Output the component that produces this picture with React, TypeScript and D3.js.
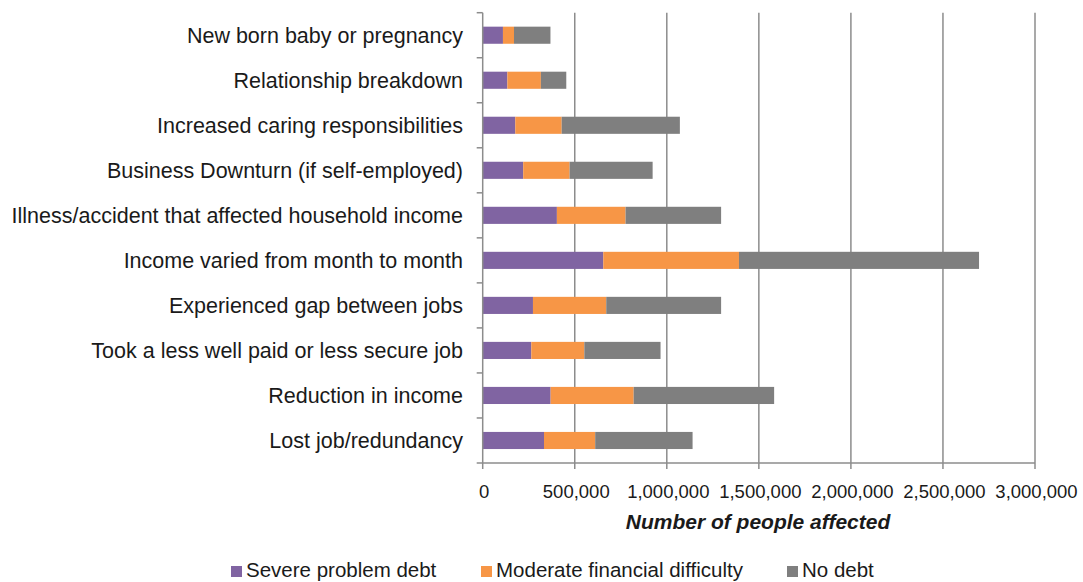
import React from "react";
import * as d3 from "d3";

const categories = [
  "New born baby or pregnancy",
  "Relationship breakdown",
  "Increased caring responsibilities",
  "Business Downturn (if self-employed)",
  "Illness/accident that affected household income",
  "Income varied from month to month",
  "Experienced gap between jobs",
  "Took a less well paid or less secure job",
  "Reduction in income",
  "Lost job/redundancy",
];
const severe = [110000, 134000, 177000, 220000, 403000, 655000, 273000, 264000, 369000, 333000];
const moderate = [60000, 182000, 252000, 252000, 373000, 737000, 398000, 288000, 451000, 278000];
const noDebt = [198000, 138000, 642000, 451000, 519000, 1304000, 624000, 414000, 763000, 529000];
const seriesNames = ["Severe problem debt", "Moderate financial difficulty", "No debt"];
const colors = ["#8064A2", "#F79646", "#7F7F7F"];
const xTicks = [0, 500000, 1000000, 1500000, 2000000, 2500000, 3000000];

export default function App() {
  const W = 1083, H = 582;
  const left = 482.7, right = 1035, top = 12.7, bottom = 463;
  const x = d3.scaleLinear().domain([0, 3000000]).range([left, right]);
  const y = d3.scaleBand().domain(categories).range([top, bottom]).paddingInner(0.62).paddingOuter(0.31);
  const rows = categories.map((c, i) => ({ c, v: [severe[i], moderate[i], noDebt[i]] }));
  const stack = d3.stack<any>().keys(["0", "1", "2"]).value((d: any, k: string) => d.v[+k]);
  const stacked = stack(rows as any);
  const step = (bottom - top) / categories.length;
  const font = "'Liberation Sans', Arial, sans-serif";
  const fmt = d3.format(",");
  const legendX = [231, 481, 787];
  return (
    <svg width={W} height={H} style={{ position: "absolute", left: 0, top: 0, background: "#fff" }} fontFamily={font}>
      {xTicks.slice(1).map((t) => (
        <line key={t} x1={x(t)} x2={x(t)} y1={top} y2={bottom} stroke="#8c8c8c" strokeWidth={1.5} />
      ))}
      {stacked.map((s, si) =>
        s.map((d: any, i: number) => (
          <rect key={si + "-" + i} x={x(d[0])} y={y(categories[i])} width={x(d[1]) - x(d[0])} height={y.bandwidth()} fill={colors[si]} />
        ))
      )}
      <line x1={left} x2={left} y1={top} y2={bottom} stroke="#8c8c8c" strokeWidth={1.5} />
      <line x1={left} x2={right} y1={bottom} y2={bottom} stroke="#8c8c8c" strokeWidth={1.5} />
      {d3.range(categories.length + 1).map((i) => (
        <line key={"yt" + i} x1={left - 6} x2={left} y1={top + i * step} y2={top + i * step} stroke="#8c8c8c" strokeWidth={1.5} />
      ))}
      {xTicks.map((t) => (
        <line key={"xt" + t} x1={x(t)} x2={x(t)} y1={bottom} y2={bottom + 6} stroke="#8c8c8c" strokeWidth={1.5} />
      ))}
      {categories.map((c) => (
        <text key={c} x={463} y={(y(c) as number) + y.bandwidth() / 2} dy="0.36em" textAnchor="end" fontSize={21.5} fill="#1a1a1a">
          {c}
        </text>
      ))}
      {xTicks.map((t) => (
        <text key={"xl" + t} x={x(t) + 1.5} y={498} textAnchor="middle" fontSize={18.5} fill="#1a1a1a">
          {fmt(t)}
        </text>
      ))}
      <text x={758} y={529} textAnchor="middle" fontSize={21} fontWeight="bold" fontStyle="italic" fill="#1a1a1a">
        Number of people affected
      </text>
      {seriesNames.map((n, i) => (
        <g key={n}>
          <rect x={legendX[i]} y={566} width={11} height={11} fill={colors[i]} />
          <text x={legendX[i] + 15} y={577} fontSize={20.5} fill="#1a1a1a">
            {n}
          </text>
        </g>
      ))}
    </svg>
  );
}
